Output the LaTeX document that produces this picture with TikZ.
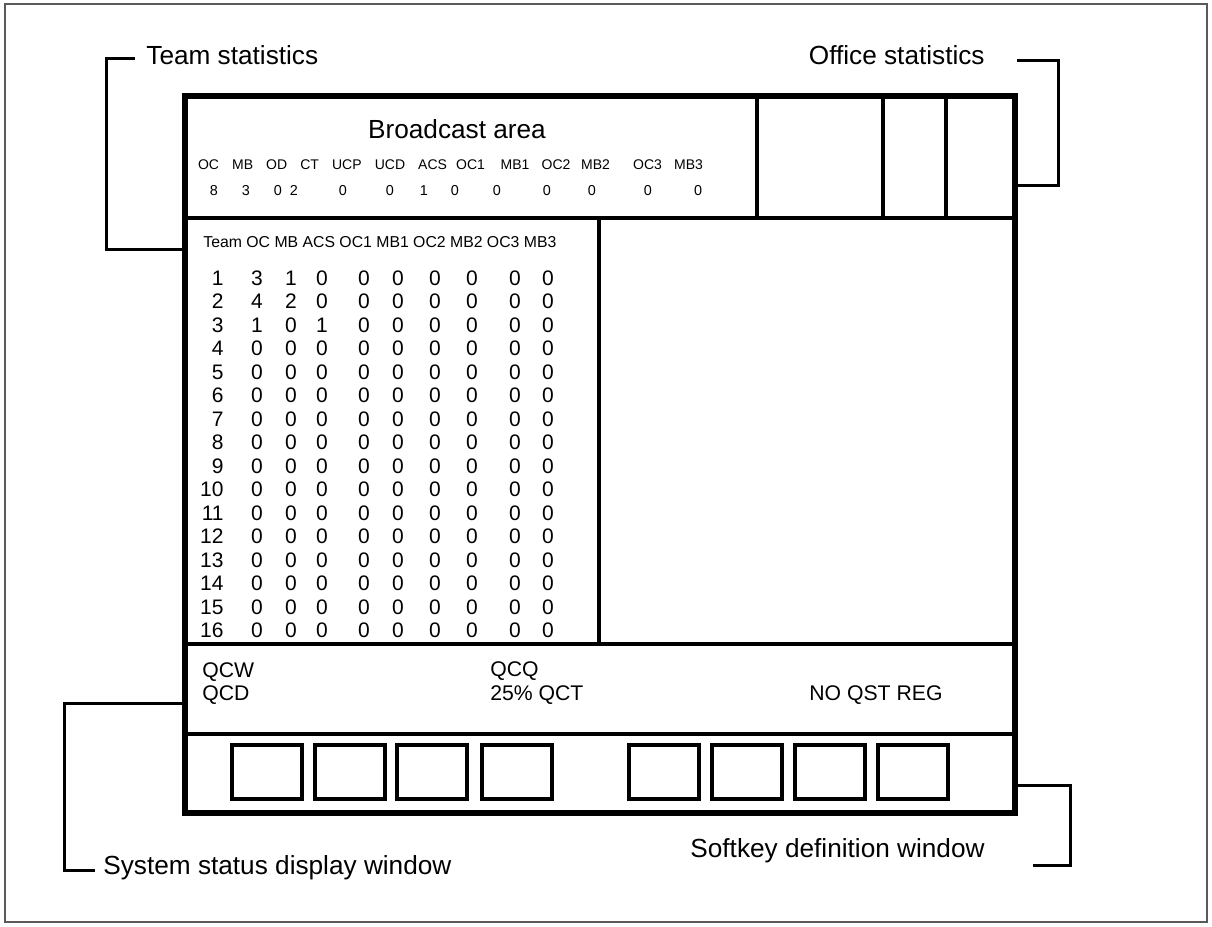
\documentclass[tikz,border=0pt]{standalone}
\usepackage{fontspec}
\setmainfont{Liberation Sans}
\definecolor{framegray}{RGB}{90,90,90}
\tikzset{screen/.style={draw,line width=3pt,outer sep=0pt,inner sep=0pt,minimum width=415pt,minimum height=358.5pt},sep/.style={line width=2pt},keybox/.style={draw,line width=1.6pt},callout/.style={line width=1.5pt},biglbl/.style={font=\fontsize{13.1}{15}\selectfont,inner sep=0pt},bchead/.style={font=\fontsize{7}{8}\selectfont,inner sep=0pt,anchor=base},bcval/.style={font=\fontsize{7.2}{8}\selectfont,inner sep=0pt,anchor=base},teamhead/.style={font=\fontsize{7.9}{9}\selectfont,inner sep=0pt,anchor=base west},cell/.style={font=\fontsize{10.5}{12}\selectfont,inner sep=0pt,anchor=base},status/.style={font=\fontsize{10.6}{12}\selectfont,inner sep=0pt,anchor=base west}}

\begin{document}
\begin{tikzpicture}[x=0.5pt,y=-0.5pt]
\useasboundingbox (0,0) rectangle (1212,927);
\draw[framegray,line width=0.7pt] (5,4) rectangle (1207,922);
% window partitions
\draw[sep] (185,218)--(1015,218);
\draw[sep] (757,96)--(757,218);
\draw[sep] (883,96)--(883,218);
\draw[sep] (946,96)--(946,218);
\draw[sep] (599,218)--(599,644);
\draw[sep] (185,644)--(1015,644);
\draw[sep] (185,733.5)--(1015,733.5);
\node[screen] (screen) at (600,454.5) {};
% broadcast area
\node[biglbl,anchor=base] (bcast) at (457,138) {Broadcast area};
\foreach \h/\hx/\v/\vx in {OC/208.5/8/214,MB/242.6/3/246,OD/276.7/0/278,CT/309.7/2/294,UCP/346.9/0/343,UCD/390/0/390,ACS/432.6/1/424,OC1/470.5/0/455,MB1/515/0/497,OC2/556/0/547,MB2/595.5/0/592,OC3/647.5/0/648,MB3/688.5/0/698}{
  \node[bchead] (bc\h) at (\hx,169) {\h};
  \node[bcval] (bv\h) at (\vx,195) {\v};
}
% team table
\node[teamhead] (teamhdr) at (203,247) {Team OC MB ACS OC1 MB1 OC2 MB2 OC3 MB3};
\foreach \r in {1,...,16}{
  \pgfmathsetmacro\ry{285+(\r-1)*23.5}
  \ifcase\r\or\def\vals{3,1,0,0,0,0,0,0,0}\or\def\vals{4,2,0,0,0,0,0,0,0}\or\def\vals{1,0,1,0,0,0,0,0,0}\else\def\vals{0,0,0,0,0,0,0,0,0}\fi
  \node[cell,anchor=base east] (team\r) at (224,\ry) {\r};
  \foreach \v [count=\c] in \vals {
    \pgfmathsetmacro\cx{{257,291,322,364,398,435,472,515,548}[\c-1]}
    \node[cell] (cell\r-\c) at (\cx,\ry) {\v};
  }
}
% system status
\node[status] (qcw) at (202,677) {QCW};
\node[status] (qcd) at (202,700) {QCD};
\node[status] (qcq) at (490,676) {QCQ};
\node[status] (qct) at (490,700) {25\% QCT};
\node[status] (qst) at (809,700) {NO QST REG};
% softkeys
\foreach \x in {232,315,397,482,629,712,795,878}
  \draw[keybox] (\x,745) rectangle ++(70,54);
% callouts
\node[biglbl,anchor=base west] (teamlbl) at (146,64) {Team statistics};
\node[biglbl,anchor=base east] (offlbl) at (985,64) {Office statistics};
\node[biglbl,anchor=base west] (syslbl) at (103,874) {System status display window};
\node[biglbl,anchor=base east] (sklbl) at (985,857) {Softkey definition window};
\coordinate (teamend) at (135,58);
\coordinate (teamtap) at (185,249);
\coordinate (offend) at (1017,60);
\coordinate (offtap) at (1015,185);
\coordinate (sysend) at (95,870);
\coordinate (systap) at (185,703);
\coordinate (skend) at (1033,865);
\coordinate (sktap) at (1015,785);
\draw[callout] (teamend)--++(-29,0)|-(teamtap);
\draw[callout] (offend)--++(41,0)|-(offtap);
\draw[callout] (sysend)--++(-31,0)|-(systap);
\draw[callout] (skend)--++(37,0)|-(sktap);
\end{tikzpicture}
\end{document}
